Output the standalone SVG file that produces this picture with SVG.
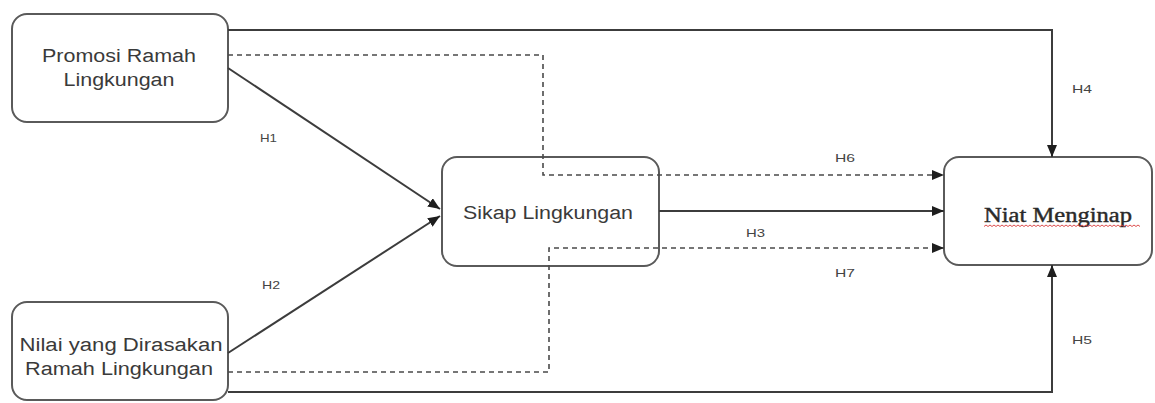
<svg xmlns="http://www.w3.org/2000/svg" width="1155" height="403" viewBox="0 0 1155 403">
  <style>
    .node { fill: #ffffff; stroke: #5a5a5a; stroke-width: 2; }
    .ntext { font-family: "Liberation Sans", Arial, sans-serif; font-size: 18px; fill: #3a3a3a; text-anchor: middle; }
    .stext { font-family: "Liberation Serif", "Times New Roman", serif; font-size: 20px; fill: #2a2a2a; text-anchor: middle; stroke: #2a2a2a; stroke-width: 0.4; }
    .solid { fill: none; stroke: #3c3c3c; stroke-width: 2; }
    .dash { fill: none; stroke: #4a4a4a; stroke-width: 1.6; stroke-dasharray: 5 4; }
    .lbl { font-family: "Liberation Sans", Arial, sans-serif; font-size: 11px; fill: #444444; }
  </style>
  <defs>
    <marker id="arr" viewBox="0 0 12 10" refX="12" refY="5" markerWidth="12" markerHeight="10" markerUnits="userSpaceOnUse" orient="auto">
      <path d="M0,0 L12,5 L0,10 z" fill="#1e1e1e"/>
    </marker>
  </defs>
  <rect width="1155" height="403" fill="#ffffff"/>

  <g id="promosi">
    <rect class="node" x="12" y="14" width="216" height="108" rx="15" ry="15"/>
    <text class="ntext" x="119" y="62" textLength="154" lengthAdjust="spacingAndGlyphs">Promosi Ramah</text>
    <text class="ntext" x="119" y="86" textLength="111" lengthAdjust="spacingAndGlyphs">Lingkungan</text>
  </g>

  <g id="nilai">
    <rect class="node" x="12" y="302" width="216" height="98" rx="15" ry="15"/>
    <text class="ntext" x="121" y="351" textLength="203" lengthAdjust="spacingAndGlyphs">Nilai yang Dirasakan</text>
    <text class="ntext" x="119" y="375" textLength="188" lengthAdjust="spacingAndGlyphs">Ramah Lingkungan</text>
  </g>

  <g id="sikap">
    <rect class="node" x="442" y="157" width="217" height="109" rx="15" ry="15"/>
    <text class="ntext" x="548" y="219" textLength="170" lengthAdjust="spacingAndGlyphs">Sikap Lingkungan</text>
  </g>

  <g id="niat">
    <rect class="node" x="944" y="157" width="208" height="108" rx="15" ry="15"/>
    <text class="stext" x="1058" y="222" textLength="148" lengthAdjust="spacingAndGlyphs">Niat Menginap</text>
    <path d="M984,226.5 l2,-1.5 2,1.5 2,-1.5 2,1.5 2,-1.5 2,1.5 2,-1.5 2,1.5 2,-1.5 2,1.5 2,-1.5 2,1.5 2,-1.5 2,1.5 2,-1.5 2,1.5 2,-1.5 2,1.5 2,-1.5 2,1.5 2,-1.5 2,1.5 2,-1.5 2,1.5 2,-1.5 2,1.5 2,-1.5 2,1.5 2,-1.5 2,1.5 2,-1.5 2,1.5 2,-1.5 2,1.5 2,-1.5 2,1.5 2,-1.5 2,1.5 2,-1.5 2,1.5 2,-1.5 2,1.5 2,-1.5 2,1.5 2,-1.5 2,1.5 2,-1.5 2,1.5 2,-1.5 2,1.5 2,-1.5 2,1.5 2,-1.5 2,1.5 2,-1.5 2,1.5 2,-1.5 2,1.5 2,-1.5 2,1.5 2,-1.5 2,1.5 2,-1.5 2,1.5 2,-1.5 2,1.5 2,-1.5 2,1.5 2,-1.5 2,1.5 2,-1.5 2,1.5 2,-1.5 2,1.5 2,-1.5 2,1.5 2,-1.5 2,1.5" fill="none" stroke="#d83a3a" stroke-width="0.9"/>
  </g>

  <g id="connectors">
    <path id="H4" class="solid" d="M228,30 H1052 V157" marker-end="url(#arr)"/>
    <path id="H6" class="dash" d="M228,55 H543 V175 H944" marker-end="url(#arr)"/>
    <path id="H1" class="solid" d="M228,68 L440,209" marker-end="url(#arr)"/>
    <path id="H2" class="solid" d="M228,353 L440,216" marker-end="url(#arr)"/>
    <path id="H3" class="solid" d="M659,211 H944" marker-end="url(#arr)"/>
    <path id="H7" class="dash" d="M228,372 H549 V248 H944" marker-end="url(#arr)"/>
    <path id="H5" class="solid" d="M228,392 H1052 V265" marker-end="url(#arr)"/>
    <text class="lbl" x="260" y="142" textLength="17" lengthAdjust="spacingAndGlyphs">H1</text>
    <text class="lbl" x="262" y="289" textLength="18" lengthAdjust="spacingAndGlyphs">H2</text>
    <text class="lbl" x="746" y="237" textLength="19" lengthAdjust="spacingAndGlyphs">H3</text>
    <text class="lbl" x="1072" y="93" textLength="20" lengthAdjust="spacingAndGlyphs">H4</text>
    <text class="lbl" x="1072" y="344" textLength="20" lengthAdjust="spacingAndGlyphs">H5</text>
    <text class="lbl" x="835" y="162" textLength="20" lengthAdjust="spacingAndGlyphs">H6</text>
    <text class="lbl" x="835" y="277" textLength="20" lengthAdjust="spacingAndGlyphs">H7</text>
  </g>
</svg>
